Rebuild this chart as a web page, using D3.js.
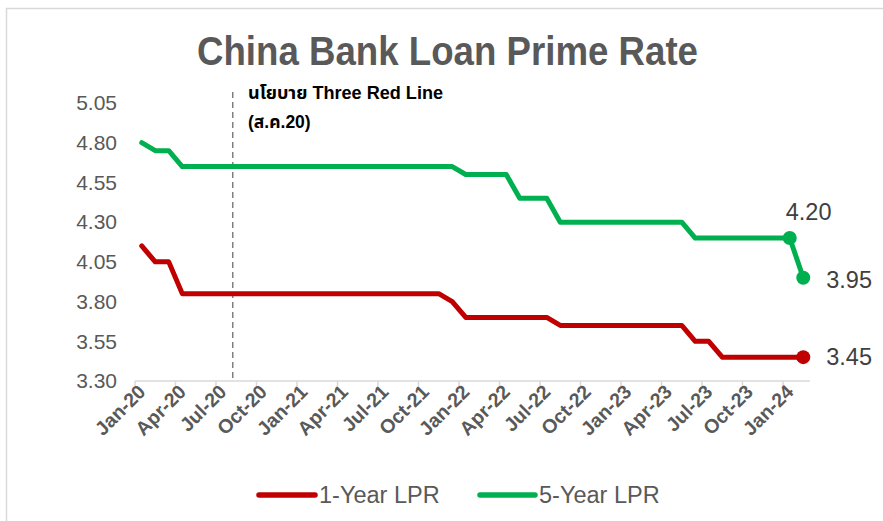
<!DOCTYPE html>
<html><head><meta charset="utf-8">
<script src="https://cdn.jsdelivr.net/npm/d3@7"></script>
<style>
body{margin:0;background:#fff;}
svg{display:block;}
text{font-family:Arial,"Liberation Sans","Noto Sans Thai","Noto Sans",sans-serif;}
</style></head>
<body><svg id="c" width="883" height="521"></svg>
<script>
const months = ["Jan-20","Feb-20","Mar-20","Apr-20","May-20","Jun-20","Jul-20","Aug-20","Sep-20","Oct-20","Nov-20","Dec-20",
"Jan-21","Feb-21","Mar-21","Apr-21","May-21","Jun-21","Jul-21","Aug-21","Sep-21","Oct-21","Nov-21","Dec-21",
"Jan-22","Feb-22","Mar-22","Apr-22","May-22","Jun-22","Jul-22","Aug-22","Sep-22","Oct-22","Nov-22","Dec-22",
"Jan-23","Feb-23","Mar-23","Apr-23","May-23","Jun-23","Jul-23","Aug-23","Sep-23","Oct-23","Nov-23","Dec-23",
"Jan-24","Feb-24"];
const lpr1 = [4.15,4.05,4.05,3.85,3.85,3.85,3.85,3.85,3.85,3.85,3.85,3.85,
3.85,3.85,3.85,3.85,3.85,3.85,3.85,3.85,3.85,3.85,3.85,3.80,
3.70,3.70,3.70,3.70,3.70,3.70,3.70,3.65,3.65,3.65,3.65,3.65,
3.65,3.65,3.65,3.65,3.65,3.55,3.55,3.45,3.45,3.45,3.45,3.45,
3.45,3.45];
const lpr5 = [4.80,4.75,4.75,4.65,4.65,4.65,4.65,4.65,4.65,4.65,4.65,4.65,
4.65,4.65,4.65,4.65,4.65,4.65,4.65,4.65,4.65,4.65,4.65,4.65,
4.60,4.60,4.60,4.60,4.45,4.45,4.45,4.30,4.30,4.30,4.30,4.30,
4.30,4.30,4.30,4.30,4.30,4.20,4.20,4.20,4.20,4.20,4.20,4.20,
4.20,3.95];
const yTicks = [3.30,3.55,3.80,4.05,4.30,4.55,4.80,5.05];
const seriesNames = ["1-Year LPR","5-Year LPR"];
const seriesColors = ["#C00000","#00B050"];
const annotMonth = "Aug-20";
const annotLines = ["นโยบาย Three Red Line","(ส.ค.20)"];
const title = "China Bank Loan Prime Rate";

const svg = d3.select("#c");
// border
svg.append("rect").attr("x",6.5).attr("y",8.5).attr("width",900).attr("height",600)
  .attr("fill","none").attr("stroke","#D9D9D9").attr("stroke-width",1.5);

const x = d3.scaleBand().domain(months).range([135,810]).padding(0);
const y = d3.scaleLinear().domain([3.30,5.05]).range([381,103]);
const cx = m => x(m) + x.bandwidth()/2;

svg.append("text").attr("x",447.5).attr("y",65).attr("text-anchor","middle")
  .attr("font-size",40).attr("font-weight","bold").attr("fill","#595959")
  .attr("textLength",501).attr("lengthAdjust","spacingAndGlyphs").text(title);

// y axis labels
const yAx = svg.append("g").attr("transform","translate(117,0)")
  .call(d3.axisLeft(y).tickValues(yTicks).tickFormat(d3.format(".2f")).tickSize(0).tickPadding(0));
yAx.select(".domain").remove();
yAx.selectAll("text").attr("font-size",21).attr("fill","#595959").attr("font-family","Arial,'Liberation Sans',sans-serif");

// x axis
const tickMonths = months.filter((m,i)=>i%3===0);
svg.append("line").attr("x1",135).attr("x2",810).attr("y1",381).attr("y2",381)
  .attr("stroke","#D9D9D9").attr("stroke-width",1.5);
svg.append("g").selectAll("line").data(tickMonths).join("line")
  .attr("x1",d=>x(d)).attr("x2",d=>x(d)).attr("y1",381).attr("y2",386)
  .attr("stroke","#D9D9D9").attr("stroke-width",1.5);
svg.append("g").selectAll("text").data(tickMonths).join("text")
  .attr("transform",d=>`translate(${cx(d)+5},${393}) rotate(-45)`)
  .attr("text-anchor","end").attr("font-size",19.5).attr("font-weight","bold")
  .attr("fill","#595959").text(d=>d);

// annotation dashed line
const ax = x(annotMonth) + x.bandwidth()*0.24;
svg.append("line").attr("x1",ax).attr("x2",ax).attr("y1",92).attr("y2",381)
  .attr("stroke","#7F7F7F").attr("stroke-width",1.5).attr("stroke-dasharray","6,4");
svg.append("text").attr("x",248).attr("y",99).attr("font-size",17.5).attr("font-weight","bold")
  .attr("fill","#000").attr("textLength",195).attr("lengthAdjust","spacingAndGlyphs").text(annotLines[0]);
svg.append("text").attr("x",248).attr("y",128).attr("font-size",17.5).attr("font-weight","bold")
  .attr("fill","#000").text(annotLines[1]);

// lines
const line = d3.line().x((d,i)=>cx(months[i])).y(d=>y(d));
[lpr1,lpr5].forEach((s,k)=>{
  svg.append("path").datum(s).attr("d",line).attr("fill","none")
    .attr("stroke",seriesColors[k]).attr("stroke-width",5)
    .attr("stroke-linejoin","round").attr("stroke-linecap","round");
});
// markers
const markers = [
  {s:1,i:48,lab:"4.20",dx:-4,dy:-18,anchor:"start"},
  {s:1,i:49,lab:"3.95",dx:23,dy:10,anchor:"start"},
  {s:0,i:49,lab:"3.45",dx:23,dy:8,anchor:"start"}
];
markers.forEach(m=>{
  const s = m.s===0?lpr1:lpr5;
  const px = cx(months[m.i]), py = y(s[m.i]);
  svg.append("circle").attr("cx",px).attr("cy",py).attr("r",7).attr("fill",seriesColors[m.s]);
  svg.append("text").attr("x",px+m.dx).attr("y",py+m.dy).attr("text-anchor",m.anchor)
    .attr("font-size",23.5).attr("fill","#404040").text(m.lab);
});

// legend
const leg = [{x1:259,x2:315,tx:319},{x1:480,x2:535,tx:539}];
leg.forEach((l,k)=>{
  svg.append("line").attr("x1",l.x1).attr("x2",l.x2).attr("y1",495).attr("y2",495)
    .attr("stroke",seriesColors[k]).attr("stroke-width",5.5).attr("stroke-linecap","round");
  svg.append("text").attr("x",l.tx).attr("y",503).attr("font-size",23.5)
    .attr("fill","#595959").text(seriesNames[k]);
});
</script></body></html>
